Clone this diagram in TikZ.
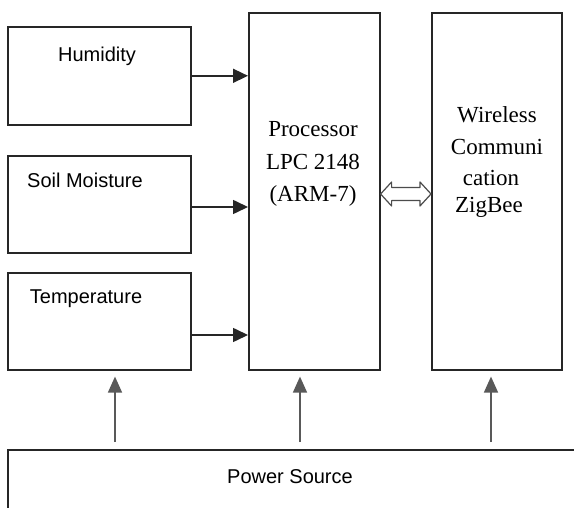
\documentclass[tikz,border=0pt]{standalone}
\usepackage{fontspec}
\setmainfont{Liberation Serif}
\newfontfamily\sansf{Liberation Sans}
\usetikzlibrary{arrows.meta,calc}
\begin{document}
\begin{tikzpicture}[x=1pt,y=-1pt,
  box/.style={draw=black!85, line width=1.6pt, inner sep=0pt, anchor=north west},
  stxt/.style={font=\sansf\fontsize{20}{20}\selectfont, anchor=base, inner sep=0pt, text=black},
  rtxt/.style={font=\fontsize{23}{23}\selectfont, anchor=base, inner sep=0pt, text=black},
  harr/.style={draw=black!85, line width=1.6pt, -{Triangle[length=15pt,width=14pt]}},
  varr/.style={draw=black!65, line width=1.6pt, -{Triangle[length=16pt,width=14pt]}}]
\useasboundingbox (0,0) rectangle (574,508);
\clip (0,0) rectangle (574,508);
% boxes
\node[box, minimum width=183pt, minimum height=98pt] (hum) at (7,26) {};
\node[box, minimum width=183pt, minimum height=97pt] (soil) at (7,155) {};
\node[box, minimum width=183pt, minimum height=97pt] (temp) at (7,272) {};
\node[box, minimum width=131pt, minimum height=357pt] (proc) at (248,12) {};
\node[box, minimum width=130pt, minimum height=357pt] (wl) at (431,12) {};
\node[box, minimum width=620pt, minimum height=120pt] (ps) at (7,449) {};
% texts
\node[stxt] (humt) at (97,62) {Humidity};
\node[stxt] (soilt) at (85,188) {Soil Moisture};
\node[stxt] (tempt) at (86,304) {Temperature};
\node[stxt] (pst) at (290,483) {Power Source};
\node[rtxt] (p1) at (313,137) {Processor};
\node[rtxt] (p2) at (313,170) {LPC 2148};
\node[rtxt] (p3) at (313,202) {(ARM-7)};
\node[rtxt] (w1) at (497,123) {Wireless};
\node[rtxt] (w2) at (497,155) {Communi};
\node[rtxt] (w3) at (491,186) {cation};
\node[rtxt] (w4) at (489,213) {ZigBee};
% horizontal arrows
\coordinate (hy2) at (0,207);
\coordinate (hy3) at (0,335);
\draw[harr] (hum.east) -- (proc.west |- hum.east);
\draw[harr] (soil.east |- hy2) -- (proc.west |- hy2);
\draw[harr] (temp.east |- hy3) -- (proc.west |- hy3);
% vertical arrows
\coordinate (vx1) at (115,0);
\coordinate (vx2) at (300,0);
\coordinate (vx3) at (491,0);
\draw[varr, shorten <=7pt, shorten >=6pt] (ps.north -| vx1) -- (temp.south -| vx1);
\draw[varr, shorten <=7pt, shorten >=6pt] (ps.north -| vx2) -- (proc.south -| vx2);
\draw[varr, shorten <=7pt, shorten >=6pt] (ps.north -| vx3) -- (wl.south -| vx3);
% double hollow arrow
\coordinate (dy) at (0,194);
\coordinate (da) at (proc.east |- dy);
\coordinate (db) at (wl.west |- dy);
\draw[line width=1.2pt, draw=black!70, fill=white, line join=round]
  (da) -- ++(11,-12) -- ++(0,5.5) -- ($(db)+(-11,-6.5)$) -- ++(0,-5.5) -- (db)
  -- ++(-11,12) -- ++(0,-5.5) -- ($(da)+(11,6.5)$) -- ++(0,5.5) -- cycle;
\end{tikzpicture}
\end{document}
